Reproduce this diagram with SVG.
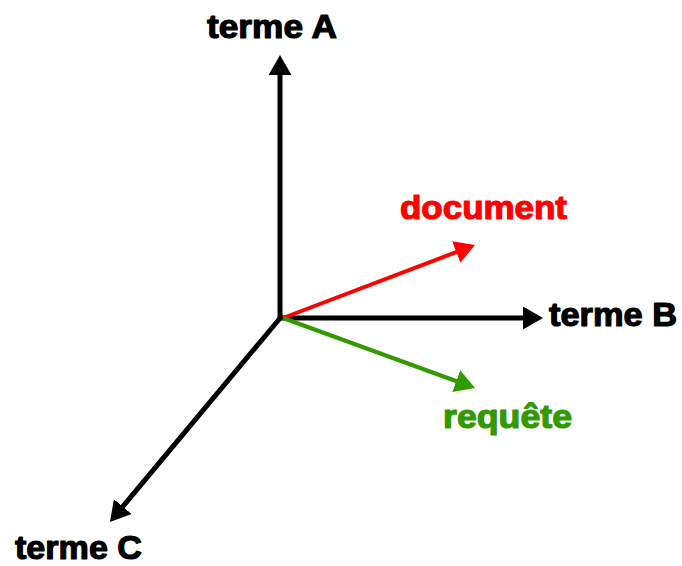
<svg xmlns="http://www.w3.org/2000/svg" width="682" height="566" viewBox="0 0 682 566">
<style>
.lbl{font-family:"Liberation Sans",Arial,sans-serif;font-weight:bold;font-size:33px;stroke-width:1.2;stroke-linejoin:round}
.k{fill:#000;stroke:#000}
.r{fill:#ff0000;stroke:#ff0000}
.g{fill:#339900;stroke:#339900}
.ax{stroke:#000;stroke-width:5;fill:none}
</style>
<defs>
<marker id="hk" markerUnits="userSpaceOnUse" markerWidth="22" markerHeight="24" refX="4" refY="11.5" orient="auto" viewBox="0 0 22 24"><path d="M0,0 L20,11.5 L0,23 z" fill="#000"/></marker>
<marker id="hr" markerUnits="userSpaceOnUse" markerWidth="22" markerHeight="24" refX="4" refY="11.5" orient="auto" viewBox="0 0 22 24"><path d="M0,0 L20,11.5 L0,23 z" fill="#ff0000"/></marker>
<marker id="hg" markerUnits="userSpaceOnUse" markerWidth="22" markerHeight="24" refX="4" refY="11.5" orient="auto" viewBox="0 0 22 24"><path d="M0,0 L20,11.5 L0,23 z" fill="#339900"/></marker>
</defs>
<rect width="682" height="566" fill="#fff"/>
<g id="connectors">
<line class="ax" x1="280" y1="320" x2="280" y2="71" marker-end="url(#hk)"/>
<line class="ax" x1="278" y1="318" x2="527" y2="318" marker-end="url(#hk)"/>
<line class="ax" x1="281" y1="317" x2="120.2" y2="509.7" marker-end="url(#hk)"/>
<line x1="283" y1="318" x2="460" y2="250.7" stroke="#ff0000" stroke-width="4" marker-end="url(#hr)"/>
<line x1="283" y1="318" x2="460" y2="382.5" stroke="#339900" stroke-width="4" marker-end="url(#hg)"/>
</g>
<g id="termeA"><text class="lbl k" x="207" y="38" textLength="130" lengthAdjust="spacingAndGlyphs">terme A</text></g>
<g id="termeB"><text class="lbl k" x="549" y="326" textLength="128" lengthAdjust="spacingAndGlyphs">terme B</text></g>
<g id="termeC"><text class="lbl k" x="15" y="559" textLength="127" lengthAdjust="spacingAndGlyphs">terme C</text></g>
<g id="document"><text class="lbl r" x="400" y="219" textLength="167" lengthAdjust="spacingAndGlyphs">document</text></g>
<g id="requete"><text class="lbl g" x="443" y="428" textLength="129" lengthAdjust="spacingAndGlyphs">requête</text></g>
</svg>
